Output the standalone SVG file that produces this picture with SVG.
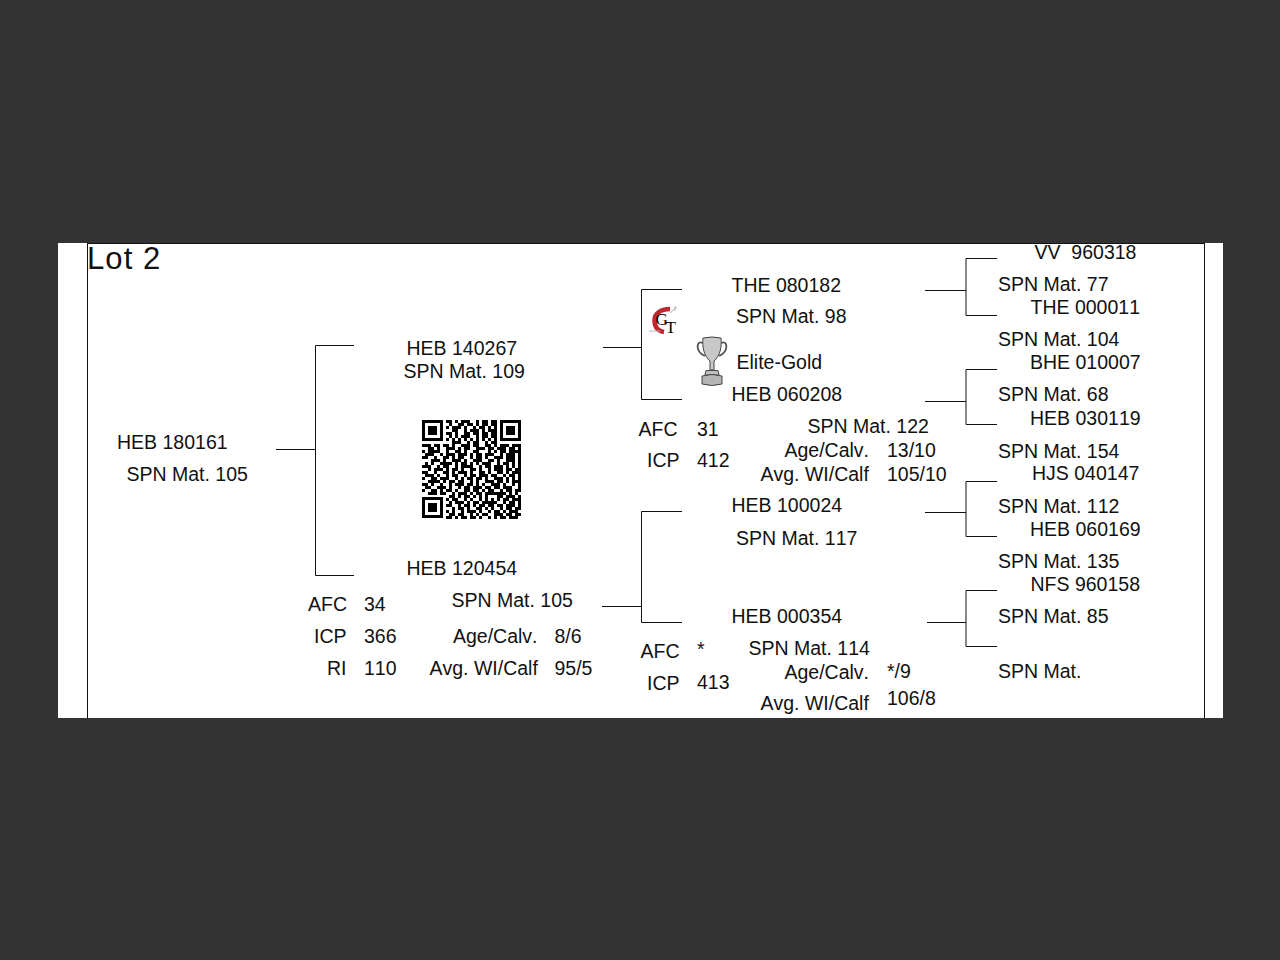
<svg xmlns="http://www.w3.org/2000/svg" width="1280" height="960" viewBox="0 0 1280 960">
<style>
text{font-family:"Liberation Sans",Arial,sans-serif;font-size:19.5px;fill:#111;font-kerning:none;white-space:pre}
.c{fill:none;stroke:#111;stroke-width:1}
.q{fill:none;stroke:#000;stroke-width:3}
</style>
<rect width="1280" height="960" fill="#333333"/>
<rect x="58" y="243" width="1165" height="475" fill="#fff"/>
<g id="frame"><path class="c" d="M87.500 243V718M1204.500 243V718M87 243.500H1205"/></g>
<g id="connectors">
<path class="c" d="M276 449.500H315.500M354 345.500H315.500V575.500H354"/>
<path class="c" d="M603 347.500H641.500M682 289.500H641.500V399.500H682"/>
<path class="c" d="M602 606.500H641.500M682 511.500H641.500V622.500H682"/>
<path class="c" d="M925 290.500H966M997 258.500H966V315.500H997"/>
<path class="c" d="M925 401.500H966M997 369.500H966V424.500H997"/>
<path class="c" d="M925 512.500H966M997 481.500H966V536.500H997"/>
<path class="c" d="M927 622.500H966M997 590.500H966V646.500H997"/>
</g>
<text id="lot" x="87" y="269" style="font-size:31px;letter-spacing:1.1px">Lot 2</text>
<g id="subject"><text x="117" y="449">HEB 180161</text><text x="126.500" y="481">SPN Mat. 105</text></g>
<g id="sire"><text x="406.500" y="355">HEB 140267</text><text x="403.500" y="378">SPN Mat. 109</text></g>
<g id="dam"><text x="406.500" y="575">HEB 120454</text><text x="451.500" y="607">SPN Mat. 105</text>
<text x="308" y="611">AFC</text><text x="364" y="611">34</text><text x="314" y="643">ICP</text><text x="364" y="643">366</text><text x="327" y="675">RI</text><text x="364" y="675">110</text>
<text x="453" y="643">Age/Calv.</text><text x="554.500" y="643">8/6</text><text x="429.500" y="675">Avg. WI/Calf</text><text x="554.500" y="675">95/5</text></g>
<g id="qr">
<path class="q" d="M423.500 421.500h18v18h-18zM501.500 421.500h18v18h-18zM423.500 498.500h18v18h-18z"/>
<path d="M428 426h9v9h-9zM506 426h9v9h-9zM428 503h9v9h-9z"/>
<path class="q" d="M446 421.500h6m3 0h3m3 0h9m6 0h3m3 0h6m3 0h6
M449 424.500h3m6 0h6m3 0h6m3 0h3m3 0h6m3 0h6
M446 427.500h3m3 0h9m3 0h3m6 0h3m3 0h6m3 0h3m3 0h3
M452 430.500h6m6 0h3m3 0h9m3 0h3m3 0h9
M446 433.500h6m3 0h3m6 0h6m3 0h6m3 0h6m3 0h6
M449 436.500h3m3 0h3m3 0h9m6 0h3m3 0h6m3 0h6
M446 439.500h3m3 0h3m3 0h3m3 0h3m3 0h3m3 0h3m3 0h3m3 0h3m3 0h3
M452 442.500h9m6 0h3m3 0h6m6 0h3m3 0h6
M422 445.500h9m3 0h6m3 0h6m3 0h3m6 0h9m3 0h6m6 0h6m3 0h3m3 0h9m3 0h9
M428 448.500h6m3 0h3m6 0h9m3 0h3m3 0h6m6 0h9m3 0h6m3 0h9m3 0h6m3 0h3
M422 451.500h3m3 0h12m6 0h3m6 0h6m3 0h3m6 0h6m9 0h3m3 0h3m3 0h6m3 0h12
M425 454.500h9m6 0h3m3 0h9m3 0h9m3 0h3m3 0h6m3 0h9m6 0h3m3 0h9m3 0h3
M422 457.500h6m6 0h3m6 0h6m3 0h3m3 0h6m6 0h3m3 0h6m3 0h3m6 0h9m3 0h9m3 0h3
M431 460.500h9m3 0h3m6 0h9m3 0h3m6 0h9m6 0h6m3 0h3m6 0h9m3 0h3
M425 463.500h3m3 0h3m6 0h12m3 0h3m3 0h6m3 0h3m3 0h3m3 0h9m6 0h3m3 0h6m3 0h3m3 0h3
M422 466.500h9m6 0h3m3 0h6m6 0h3m3 0h12m6 0h3m3 0h6m3 0h9m3 0h3m3 0h3m3 0h3
M428 469.500h3m3 0h9m3 0h3m3 0h6m3 0h3m6 0h6m3 0h3m6 0h3m3 0h9m3 0h6m3 0h6
M422 472.500h6m6 0h3m6 0h6m3 0h3m3 0h9m3 0h3m6 0h6m3 0h3m6 0h6m3 0h3m3 0h9
M425 475.500h9m3 0h3m6 0h3m3 0h6m6 0h3m3 0h6m3 0h9m3 0h6m6 0h3m3 0h6m3 0h3
M422 478.500h3m6 0h6m3 0h9m6 0h3m3 0h3m3 0h6m3 0h6m3 0h3m6 0h9m3 0h3m3 0h3m3 0h3
M428 481.500h12m3 0h3m3 0h6m3 0h6m6 0h3m3 0h3m6 0h9m3 0h6m3 0h3m3 0h9
M422 484.500h6m3 0h3m6 0h3m6 0h3m3 0h9m3 0h6m3 0h3m3 0h3m6 0h9m3 0h3m6 0h3m3 0h3
M425 487.500h6m6 0h9m3 0h3m6 0h3m3 0h6m3 0h9m3 0h6m3 0h6m3 0h9m6 0h3
M422 490.500h3m6 0h6m3 0h3m3 0h6m3 0h3m6 0h6m3 0h6m3 0h3m3 0h6m6 0h3m3 0h6m3 0h6
M428 493.500h9m3 0h6m6 0h3m3 0h9m3 0h3m3 0h6m3 0h21m3 0h3m3 0h3
M449 496.500h6m3 0h3m3 0h6m3 0h3m3 0h3m3 0h3m9 0h6m3 0h9m3 0h3
M446 499.500h3m3 0h6m6 0h3m3 0h3m6 0h3m3 0h3m3 0h3m3 0h3m3 0h6m3 0h9
M449 502.500h3m3 0h9m3 0h3m3 0h6m3 0h15m6 0h3m3 0h6m3 0h3
M446 505.500h6m6 0h3m3 0h6m3 0h3m3 0h6m3 0h6m3 0h6m3 0h9m3 0h3
M452 508.500h3m3 0h6m3 0h3m6 0h6m3 0h3m3 0h3m6 0h3m3 0h6m3 0h6
M446 511.500h3m3 0h3m6 0h3m3 0h9m3 0h3m6 0h3m3 0h6m3 0h3m3 0h9
M449 514.500h6m3 0h6m6 0h3m3 0h3m3 0h6m6 0h9m3 0h6m3 0h6
M446 517.500h6m3 0h3m3 0h6m3 0h6m3 0h3m6 0h3m3 0h3m3 0h6m3 0h9"/>
</g>
<g id="logo">
<path d="M670 309C660 309 654.500 314 654.500 320C654.500 327 658 331 664 332" fill="none" stroke="#c1272d" stroke-width="4.500"/>
<path d="M670 313l7-6M675 306v5" stroke="#a9b3b8" stroke-width="1" fill="none"/>
<path d="M649 331h11" stroke="#a9b3b8" stroke-width="1" fill="none"/>
<text x="655.500" y="325" style="font-family:'Liberation Serif',serif;font-size:17px;fill:#000">G</text>
<text x="665.500" y="333" style="font-family:'Liberation Serif',serif;font-size:17px;fill:#000">T</text>
</g>
<g id="trophy">
<path d="M703 343C698 341 697 345 698 349C699 353 703 355 705 356M721 343C726 341 727 345 726 349C725 353 721 355 719 356" fill="none" stroke="#555" stroke-width="1.800"/>
<path d="M703 338Q712 336 721 338C722 347 720 356 714 361V370H710V361C704 356 702 347 703 338Z" fill="#c8c8c8" stroke="#444" stroke-width="1"/>
<path d="M706 370.500H718Q719 374 719 375H705Q705 374 706 370.500Z" fill="#bdbdbd" stroke="#444" stroke-width="1"/>
<path d="M702 376Q712 373 722 376V384Q712 387 702 384Z" fill="#b5b5b5" stroke="#444" stroke-width="1"/>
</g>
<g id="n1"><text x="731.500" y="292">THE 080182</text><text x="736" y="323">SPN Mat. 98</text><text x="736.500" y="369">Elite-Gold</text></g>
<g id="n2"><text x="731.500" y="401">HEB 060208</text><text x="807.500" y="433">SPN Mat. 122</text>
<text x="638.500" y="436">AFC</text><text x="697" y="436">31</text><text x="647" y="467">ICP</text><text x="697" y="467">412</text>
<text x="784.500" y="457">Age/Calv.</text><text x="887" y="457">13/10</text><text x="760.500" y="481">Avg. WI/Calf</text><text x="887" y="481">105/10</text></g>
<g id="n3"><text x="731.500" y="512">HEB 100024</text><text x="736" y="545">SPN Mat. 117</text></g>
<g id="n4"><text x="731.500" y="623">HEB 000354</text><text x="748.500" y="655">SPN Mat. 114</text>
<text x="640.500" y="658">AFC</text><text x="697" y="656">*</text><text x="647" y="690">ICP</text><text x="697" y="689">413</text>
<text x="784.500" y="679">Age/Calv.</text><text x="887" y="678">*/9</text><text x="760.500" y="710">Avg. WI/Calf</text><text x="887" y="705">106/8</text></g>
<g id="g1"><text x="1034.500" y="259">VV  960318</text><text x="998" y="291">SPN Mat. 77</text></g>
<g id="g2"><text x="1030.500" y="314">THE 000011</text><text x="998" y="346">SPN Mat. 104</text></g>
<g id="g3"><text x="1030" y="369">BHE 010007</text><text x="998" y="401">SPN Mat. 68</text></g>
<g id="g4"><text x="1030" y="425">HEB 030119</text><text x="998" y="458">SPN Mat. 154</text></g>
<g id="g5"><text x="1032" y="480">HJS 040147</text><text x="998" y="513">SPN Mat. 112</text></g>
<g id="g6"><text x="1030" y="536">HEB 060169</text><text x="998" y="568">SPN Mat. 135</text></g>
<g id="g7"><text x="1030.500" y="591">NFS 960158</text><text x="998" y="623">SPN Mat. 85</text></g>
<g id="g8"><text x="998" y="678">SPN Mat.</text></g>
</svg>
